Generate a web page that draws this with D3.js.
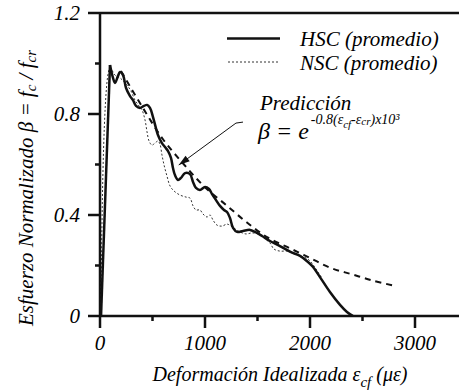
<!DOCTYPE html>
<html><head><meta charset="utf-8">
<script src="https://cdn.jsdelivr.net/npm/d3@7"></script>
</head>
<body style="margin:0"><svg id="c" width="459" height="392"></svg>
<script>
// ---- data ----
const hscStrain = [10,95,124,143,171,190,219,248,286,314,343,381,419,448,476,505,552,590,619,648,676,695,714,743,771,810,857,886,914,952,1000,1038,1067,1105,1143,1181,1210,1238,1267,1305,1362,1429,1476,1543,1619,1714,1819,1905,1981,2029,2095,2190,2286,2352,2410];
const hscBeta   = [0,0.994,0.943,0.923,0.950,0.966,0.954,0.903,0.871,0.855,0.832,0.824,0.832,0.836,0.824,0.788,0.717,0.685,0.669,0.653,0.626,0.586,0.558,0.539,0.547,0.566,0.562,0.531,0.507,0.499,0.511,0.503,0.483,0.459,0.436,0.420,0.412,0.388,0.349,0.333,0.337,0.341,0.333,0.317,0.297,0.277,0.253,0.238,0.214,0.194,0.154,0.095,0.044,0.016,0];
const nscStrain = [95,143,190,248,295,333,371,400,429,448,467,495,524,552,571,590,610,638,667,705,762,819,857,886,914,952,981,1019,1048,1076,1114,1162,1210,1248,1286,1333,1390,1448,1505,1562,1619,1657,1714,1781,1829,1905,1962,2000,2038,2076,2114];
const nscBeta   = [0.982,0.954,0.943,0.919,0.891,0.855,0.832,0.816,0.776,0.729,0.693,0.677,0.685,0.693,0.681,0.638,0.598,0.554,0.515,0.495,0.479,0.471,0.467,0.436,0.420,0.420,0.404,0.392,0.400,0.380,0.360,0.356,0.364,0.356,0.345,0.333,0.325,0.329,0.325,0.309,0.289,0.265,0.257,0.257,0.249,0.238,0.230,0.218,0.198,0.174,0.150];
const predStrain = [200,400,600,800,1000,1200,1400,1600,1800,2000,2200,2400,2600,2800];
const predBeta   = [0.97,0.83,0.70,0.60,0.51,0.44,0.37,0.31,0.27,0.23,0.19,0.165,0.14,0.12];
const xMajor = [0,1000,2000,3000];
const xMinor = [500,1500,2500,3500];
const yMajor = [0,0.4,0.8,1.2];
const yMinor = [0.2,0.6,1.0];
const yLabels = ["0","0.4","0.8","1.2"];
const arrowStrain = [1362,1295,750];
const arrowBeta = [0.768,0.764,0.598];

const svg = d3.select("#c");
const x = d3.scaleLinear().domain([0,3500]).range([100,467.5]);
const y = d3.scaleLinear().domain([0,1.2]).range([316,13]);
const AX = 2.5, col = "#111";

function addText(parent, px, py, size, anchor){
  const t = parent.append("text").attr("x",px).attr("y",py).attr("font-size",size)
    .attr("font-style","italic").attr("font-family","Liberation Serif");
  if (anchor) t.attr("text-anchor",anchor);
  return t;
}
function seg(x1,y1,x2,y2,w){
  return svg.append("line").attr("x1",x1).attr("y1",y1).attr("x2",x2).attr("y2",y2)
    .attr("stroke",col).attr("stroke-width",w||AX);
}
// axis lines and frame (positions from the scales)
seg(x(0), y(0), x(3500), y(0));
seg(x(0), y(0), x(0), y(1.2));
seg(x(0), y(1.2), x(3500), y(1.2));
// ticks
xMajor.forEach(d=>seg(x(d), y(0), x(d), y(0)+12));
xMinor.forEach(d=>seg(x(d), y(0), x(d), y(0)+5));
yMajor.forEach(d=>seg(x(0)-12, y(d), x(0), y(d)));
yMinor.forEach(d=>seg(x(0)-5, y(d), x(0), y(d)));

// tick labels
xMajor.forEach(d=>addText(svg, x(d), 350, 21, "middle").text(d));
yMajor.forEach((d,i)=>addText(svg, 80, y(d)+7, 21, "end").text(yLabels[i]));

// curves
const line = d3.line().x(d=>x(d[0])).y(d=>y(d[1])).curve(d3.curveCatmullRom.alpha(0.5));
const pred = predStrain.map((s,i)=>[s,predBeta[i]]);
svg.append("path").attr("d",line(pred)).attr("fill","none").attr("stroke",col)
  .attr("stroke-width",2).attr("stroke-dasharray","6,5");
const nsc = [[10,0]].concat(nscStrain.map((s,i)=>[s,nscBeta[i]]));
svg.append("path").attr("d",line(nsc)).attr("fill","none").attr("stroke","#333")
  .attr("stroke-width",1).attr("stroke-dasharray","2,2");
const hsc = hscStrain.map((s,i)=>[s,hscBeta[i]]);
svg.append("path").attr("d",d3.line().x(d=>x(d[0])).y(d=>y(d[1]))(hsc.slice(0,2))).attr("fill","none").attr("stroke",col).attr("stroke-width",2.5);
svg.append("path").attr("d",line(hsc.slice(1))).attr("fill","none").attr("stroke",col).attr("stroke-width",2.5).attr("stroke-linejoin","round");

// legend
seg(227, 38.5, 280, 38.5, 2.5);
svg.append("line").attr("x1",228).attr("x2",280).attr("y1",62).attr("y2",62).attr("stroke","#333").attr("stroke-width",1).attr("stroke-dasharray","2,2");
addText(svg, 300, 46, 21).text("HSC (promedio)");
addText(svg, 300, 70, 21).text("NSC (promedio)");

// annotation arrow
const ap = arrowStrain.map((s,i)=>[x(s),y(arrowBeta[i])]);
svg.append("path").attr("d",d3.line()(ap)).attr("fill","none").attr("stroke",col).attr("stroke-width",1);
{
  const [ax0,ay0] = ap[1], [ax1,ay1] = ap[2];
  const ang = Math.atan2(ay1-ay0, ax1-ax0), L = 11, W = 3.5;
  const bx = ax1 - L*Math.cos(ang), by = ay1 - L*Math.sin(ang);
  const px = -Math.sin(ang)*W, py = Math.cos(ang)*W;
  svg.append("path").attr("d",`M${ax1},${ay1}L${bx+px},${by+py}L${bx-px},${by-py}Z`).attr("fill",col);
}
addText(svg, 260, 110, 21).text("Predicción");
const eq = addText(svg, 258, 139, 24).text("β = e");
const eqEnd = 258 + eq.node().getComputedTextLength();
const sup = addText(svg, Math.max(eqEnd+2,308), 124, 14);
sup.append("tspan").text("-0.8(ε");
sup.append("tspan").attr("font-size",11).attr("dy",4).text("cf");
sup.append("tspan").attr("dy",-4).text("-ε");
sup.append("tspan").attr("font-size",11).attr("dy",1).text("cr");
sup.append("tspan").attr("dy",-1).text(")x10³");

// axis titles
const xt = addText(svg, 280, 381, 20, "middle");
xt.append("tspan").text("Deformación Idealizada ε");
xt.append("tspan").attr("font-size",15).attr("dy",6).text("cf");
xt.append("tspan").attr("dy",-6).text(" (με)");
const yt = addText(svg, 0, 0, 21, "middle").attr("transform","translate(33,188) rotate(-90)");
yt.append("tspan").text("Esfuerzo Normalizado β = f");
yt.append("tspan").attr("font-size",15).attr("dy",3).text("c");
yt.append("tspan").attr("dy",-3).text(" / f");
yt.append("tspan").attr("font-size",15).attr("dy",3).text("cr");
</script></body></html>
